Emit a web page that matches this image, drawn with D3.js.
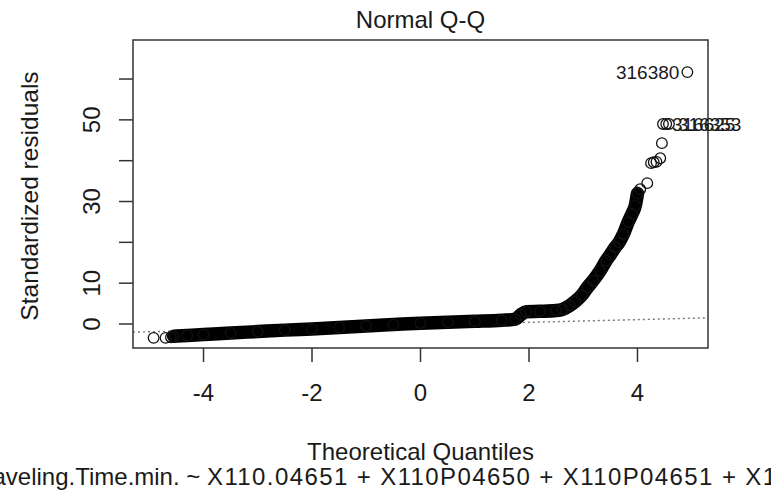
<!DOCTYPE html>
<html>
<head>
<meta charset="utf-8">
<script src="https://cdn.jsdelivr.net/npm/d3@7"></script>
<style>
body { margin: 0; background: #fff; }
svg text { font-family: "Liberation Sans", Arial, sans-serif; fill: #1a1a1a; }
</style>
</head>
<body>
<div id="chart"></div>
<script>
// dense part of the Q-Q cloud (theoretical quantile, standardized residual)
let bandQ = [-4.55, -4.3, -4.0, -3.5, -3.0, -2.5, -2.0, -1.5, -1.0, -0.5, 0.0, 0.5, 1.0, 1.5, 1.75, 1.85, 1.95, 2.2, 2.5, 2.62, 2.75, 2.85, 2.97, 3.08, 3.18, 3.31, 3.42, 3.5, 3.59, 3.66, 3.74, 3.83, 3.9, 3.96, 4.0];
let bandR = [-3.0, -2.8, -2.6, -2.2, -1.85, -1.5, -1.2, -0.85, -0.5, -0.15, 0.2, 0.45, 0.65, 0.9, 1.2, 2.3, 3.0, 3.1, 3.3, 3.6, 4.5, 5.5, 7.0, 9.0, 10.6, 13.0, 15.5, 17.0, 18.8, 20.0, 22.0, 25.0, 27.0, 29.0, 32.0];

// sparse points in the tails
let tailQ = [-4.92, -4.7, -4.6, 4.05, 4.18, 4.25, 4.3, 4.35, 4.42, 4.45, 4.47, 4.53, 4.58, 4.92];
let tailR = [-3.4, -3.4, -3.25, 33.0, 34.5, 39.4, 39.6, 39.7, 40.6, 44.3, 49.0, 49.0, 49.0, 61.7];

let labelIds = ["316380", "316625", "316353"];
let labelQ = [4.92, 4.47, 4.58];
let labelR = [61.7, 49.0, 49.0];
let labelSide = ["left", "right", "right"];

let refQ = [-5.3, 5.3];
let refR = [-2.0, 1.5];

let xTicks = [-4, -2, 0, 2, 4];
let yTicks = [0, 10, 20, 30, 40, 50, 60];
let yTickLabels = ["0", "10", "", "30", "", "50", ""];

let fullWidth = 771, fullHeight = 498;
let box = { left: 133, right: 708, top: 40, bottom: 348 };

let svg = d3.select("#chart")
    .append("svg")
    .attr("width", fullWidth)
    .attr("height", fullHeight);

let x = d3.scaleLinear().domain([-5.3, 5.3]).range([box.left, box.right]);
let y = d3.scaleLinear().domain([-5.88, 69.56]).range([box.bottom, box.top]);

svg.append("defs").append("clipPath").attr("id", "plotclip")
    .append("rect")
    .attr("x", box.left).attr("y", box.top)
    .attr("width", box.right - box.left).attr("height", box.bottom - box.top);

let plot = svg.append("g").attr("clip-path", "url(#plotclip)");

// dotted qqline
plot.append("line")
    .attr("x1", x(refQ[0])).attr("y1", y(refR[0]))
    .attr("x2", x(refQ[1])).attr("y2", y(refR[1]))
    .attr("stroke", "#777")
    .attr("stroke-width", 1.4)
    .attr("stroke-dasharray", "2,3");

let bandData = bandQ.map((q, i) => ({ q: q, r: bandR[i] }));
let tailData = tailQ.map((q, i) => ({ q: q, r: tailR[i] }));

// overlapping circles merge into a solid band
plot.append("path")
    .datum(bandData)
    .attr("fill", "none")
    .attr("stroke", "#000")
    .attr("stroke-width", 13.5)
    .attr("stroke-linejoin", "round")
    .attr("stroke-linecap", "round")
    .attr("d", d3.line().x(d => x(d.q)).y(d => y(d.r)).curve(d3.curveMonotoneX));

plot.selectAll(".pt")
    .data(bandData.concat(tailData))
    .enter()
    .append("circle")
    .attr("class", "pt")
    .attr("cx", d => x(d.q))
    .attr("cy", d => y(d.r))
    .attr("r", 5.3)
    .attr("fill", "none")
    .attr("stroke", "#111")
    .attr("stroke-width", 1.3);

// frame
svg.append("rect")
    .attr("x", box.left).attr("y", box.top)
    .attr("width", box.right - box.left).attr("height", box.bottom - box.top)
    .attr("fill", "none")
    .attr("stroke", "#333")
    .attr("stroke-width", 1.5);

// x axis
svg.selectAll(".xtick")
    .data(xTicks)
    .enter()
    .append("line")
    .attr("x1", d => x(d)).attr("x2", d => x(d))
    .attr("y1", box.bottom).attr("y2", box.bottom + 14)
    .attr("stroke", "#333").attr("stroke-width", 1.5);

svg.selectAll(".xlab")
    .data(xTicks)
    .enter()
    .append("text")
    .attr("x", d => x(d))
    .attr("y", 401)
    .attr("text-anchor", "middle")
    .style("font-size", "24px")
    .text(d => d < 0 ? "-" + Math.abs(d) : d);

// y axis
svg.selectAll(".ytick")
    .data(yTicks)
    .enter()
    .append("line")
    .attr("y1", d => y(d)).attr("y2", d => y(d))
    .attr("x1", box.left).attr("x2", box.left - 14)
    .attr("stroke", "#333").attr("stroke-width", 1.5);

svg.selectAll(".ylab")
    .data(yTicks)
    .enter()
    .append("text")
    .attr("transform", d => `translate(100,${y(d)}) rotate(-90)`)
    .attr("text-anchor", "middle")
    .style("font-size", "24px")
    .text((d, i) => yTickLabels[i]);

// titles
svg.append("text")
    .attr("x", (box.left + box.right) / 2)
    .attr("y", 28)
    .attr("text-anchor", "middle")
    .style("font-size", "24px")
    .text("Normal Q-Q");

svg.append("text")
    .attr("x", (box.left + box.right) / 2)
    .attr("y", 460)
    .attr("text-anchor", "middle")
    .style("font-size", "24px")
    .text("Theoretical Quantiles");

svg.append("text")
    .attr("transform", `translate(38,${(box.top + box.bottom) / 2 + 2}) rotate(-90)`)
    .attr("text-anchor", "middle")
    .style("font-size", "24.5px")
    .text("Standardized residuals");

// model call, clipped by the page edges
let prefix = "Traveling.Time.min. ~ ";
let sub = svg.append("text")
    .attr("y", 485)
    .style("font-size", "24px")
    .style("white-space", "pre")
    .text(prefix);
let prefixWidth = sub.node().getComputedTextLength();
sub.attr("x", 207 - prefixWidth);
sub.append("tspan")
    .style("letter-spacing", "1.4px")
    .text("X110.04651 + X110P04650 + X110P04651 + X110P04652");

// point ids
svg.selectAll(".pid")
    .data(labelIds)
    .enter()
    .append("text")
    .attr("x", (d, i) => labelSide[i] === "left" ? x(labelQ[i]) - 8 : x(labelQ[i]) + 9)
    .attr("y", (d, i) => y(labelR[i]))
    .attr("dy", "0.35em")
    .attr("text-anchor", (d, i) => labelSide[i] === "left" ? "end" : "start")
    .style("font-size", "19px")
    .text(d => d);
</script>
</body>
</html>
